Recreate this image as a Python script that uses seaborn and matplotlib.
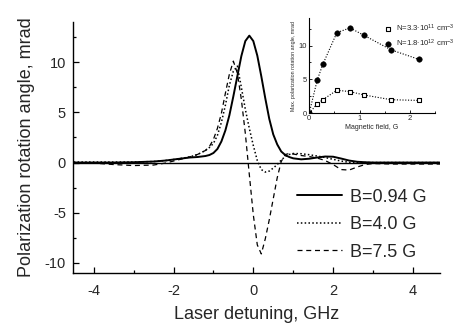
import matplotlib
matplotlib.use('Agg')
import matplotlib.pyplot as plt
import seaborn as sns
from matplotlib.ticker import MultipleLocator

# Main panel: rotation signal vs laser detuning (GHz)
detuning = [-4.5, -4.0, -3.5, -3.0, -2.5, -2.2, -2.0, -1.8, -1.6, -1.4, -1.2, -1.1,
            -1.0, -0.9, -0.8, -0.7, -0.6, -0.5, -0.4, -0.3, -0.2, -0.1, 0.0, 0.1,
            0.2, 0.3, 0.4, 0.5, 0.6, 0.7, 0.8, 0.9, 1.0, 1.2, 1.4, 1.6, 1.8, 2.0,
            2.2, 2.4, 2.6, 2.8, 3.0, 3.5, 4.0, 4.7]
b094 = [0.0, 0.0, 0.0, 0.03, 0.1, 0.2, 0.3, 0.4, 0.5, 0.55, 0.65, 0.75,
        0.95, 1.35, 2.1, 3.2, 4.7, 6.6, 8.6, 10.6, 12.1, 12.64, 12.1, 10.65,
        8.6, 6.4, 4.35, 2.8, 1.8, 1.1, 0.75, 0.55, 0.42, 0.32, 0.38, 0.5, 0.6, 0.58,
        0.4, 0.2, 0.08, 0.03, 0.0, 0.0, 0.0, 0.0]
b40 = [0.05, 0.05, 0.05, 0.05, 0.1, 0.2, 0.3, 0.42, 0.55, 0.8, 1.2, 1.5,
       1.9, 2.7, 4.0, 5.7, 7.7, 9.1, 9.6, 7.5, 5.3, 3.4, 1.7, 0.2,
       -0.7, -0.95, -0.85, -0.55, -0.2, 0.25, 0.6, 0.8, 0.9, 0.88, 0.78, 0.65, 0.5, 0.32,
       0.15, 0.02, 0.0, 0.0, 0.0, 0.0, 0.0, 0.0]
b75 = [0.0, -0.05, -0.2, -0.3, -0.25, -0.05, 0.15, 0.35, 0.55, 0.8, 1.2, 1.6,
       2.3, 3.4, 4.9, 6.9, 8.8, 10.1, 8.9, 6.3, 2.9, -1.2, -5.2, -8.2,
       -9.1, -7.6, -5.7, -3.6, -1.5, 0.1, 0.8, 0.9, 0.85, 0.7, 0.6, 0.45, 0.2, -0.2,
       -0.7, -0.75, -0.45, -0.2, -0.1, -0.15, -0.15, -0.15]

# Inset: max rotation vs magnetic field (G)
field = [0.0, 0.16, 0.27, 0.55, 0.81, 1.09, 1.63, 2.18]
max_low = [0.0, 1.4, 2.0, 3.4, 3.2, 2.7, 2.0, 1.9]
max_high = [0.0, 4.9, 7.2, 11.9, 12.6, 11.5, 9.35, 7.96]

sns.set_style("ticks")
plt.rcParams['font.family'] = ['Liberation Sans', 'DejaVu Sans']
plt.rcParams['mathtext.fontset'] = 'custom'
plt.rcParams['mathtext.rm'] = 'Liberation Sans'
plt.rcParams['mathtext.default'] = 'regular'
plt.rcParams['axes.unicode_minus'] = False

fig = plt.figure(figsize=(4.56, 3.26), dpi=100)
ax = fig.add_axes([0.160, 0.1626, 0.805, 0.77])

ax.axhline(0, color='black', lw=1.0, zorder=1)
sns.lineplot(x=detuning, y=b094, ax=ax, color='black', lw=1.4, label='B=0.94 G')
sns.lineplot(x=detuning, y=b40, ax=ax, color='black', lw=1.1, linestyle=(0, (1, 1.5)),
             label='B=4.0 G')
sns.lineplot(x=detuning, y=b75, ax=ax, color='black', lw=0.9, linestyle=(0, (4, 3)),
             label='B=7.5 G')

ax.set_xlim(-4.52, 4.68)
ax.set_ylim(-11, 14)
ax.xaxis.set_major_locator(MultipleLocator(2))
ax.xaxis.set_minor_locator(MultipleLocator(1))
ax.yaxis.set_major_locator(MultipleLocator(5))
ax.yaxis.set_minor_locator(MultipleLocator(2.5))
ax.tick_params(which='both', direction='in', labelsize=10.5, color='black')
ax.tick_params(which='major', length=4.5, width=0.9)
ax.tick_params(which='minor', length=2.5, width=0.9)
ax.tick_params(axis='x', pad=8)
ax.tick_params(axis='y', pad=5)
sns.despine(ax=ax)
for s in ['left', 'bottom']:
    ax.spines[s].set_color('black')
    ax.spines[s].set_linewidth(1.0)
ax.set_xlabel('Laser detuning, GHz', fontsize=13, labelpad=6)
ax.set_ylabel('Polarization rotation angle, mrad', fontsize=13, labelpad=7)
ax.legend(loc='upper left', bbox_to_anchor=(0.59, 0.365), frameon=False, fontsize=13,
          handlelength=2.5, handletextpad=0.45, labelspacing=0.58, borderaxespad=0)

# inset
ins = fig.add_axes([0.678, 0.6525, 0.276, 0.291])
ins.patch.set_alpha(0)
sns.lineplot(x=field, y=max_high, ax=ins, color='black', lw=0.8, linestyle=(0, (1, 1.5)))
sns.lineplot(x=field, y=max_low, ax=ins, color='black', lw=0.8, linestyle=(0, (1, 1.5)))
sns.scatterplot(x=field, y=max_low, ax=ins, marker='s', s=12, facecolor='white',
                edgecolor='black', linewidth=0.8, zorder=3,
                label=r'N=3.3$\cdot$10$^{11}$ cm$^{-3}$')
sns.scatterplot(x=field, y=max_high, ax=ins, marker='o', s=16, color='black',
                edgecolor='black', zorder=3, label=r'N=1.8$\cdot$10$^{12}$ cm$^{-3}$')
ins.set_xlim(0, 2.5)
ins.set_ylim(0, 14)
ins.xaxis.set_major_locator(MultipleLocator(1))
ins.xaxis.set_minor_locator(MultipleLocator(0.5))
ins.yaxis.set_major_locator(MultipleLocator(5))
ins.yaxis.set_minor_locator(MultipleLocator(2.5))
ins.tick_params(which='both', direction='in', labelsize=5.5, pad=1.5, width=0.6, color='black')
ins.tick_params(which='major', length=2.5)
ins.tick_params(which='minor', length=1.5)
sns.despine(ax=ins)
for s in ['left', 'bottom']:
    ins.spines[s].set_color('black')
    ins.spines[s].set_linewidth(0.8)
ins.set_xlabel('Magnetic field, G', fontsize=5, labelpad=1)
ins.set_ylabel('Max. polarization rotation angle, mrad', fontsize=3.8, labelpad=2)
ins.legend(loc='upper left', bbox_to_anchor=(0.58, 0.99), frameon=False, fontsize=5.6,
           handlelength=0.8, handletextpad=0.6, labelspacing=0.45, borderaxespad=0)

fig.savefig('out.png', dpi=100)
